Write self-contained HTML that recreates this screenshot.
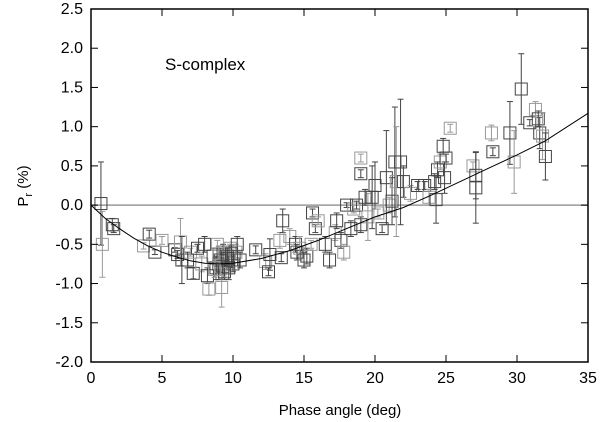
<!DOCTYPE html>
<html><head><meta charset="utf-8"><style>
body{margin:0;background:#fff;font-family:"Liberation Sans",sans-serif}
svg{display:block}
text{font-family:"Liberation Sans",sans-serif;fill:#000}
</style></head><body>
<svg id="chart" width="600" height="422" xmlns="http://www.w3.org/2000/svg">
<text x="165" y="70" font-size="17">S-complex</text>
<text x="340" y="415" font-size="15" text-anchor="middle">Phase angle (deg)</text>
<text transform="translate(28,186) rotate(-90)" font-size="15" text-anchor="middle">P<tspan font-size="11" dy="4">r</tspan><tspan dy="-4"> (%)</tspan></text>
</svg>
<script>
const xTicks=[0,5,10,15,20,25,30,35];
const yTicks=[2.5,2.0,1.5,1.0,0.5,0.0,-0.5,-1.0,-1.5,-2.0];
const phase=[0.7,0.8,1.5,1.6,3.7,4.1,4.5,5.0,5.9,6.1,6.3,6.4,6.8,7.0,7.2,7.5,7.8,8.0,8.2,8.3,8.6,8.8,8.9,9.0,9.1,9.2,9.3,9.4,9.5,9.6,9.7,9.8,9.9,10.0,10.2,10.3,10.5,9.0,9.3,9.6,8.7,9.9,11.6,12.3,12.6,12.5,13.3,13.5,13.4,14.0,14.4,14.5,14.7,15.0,15.2,15.5,15.6,15.8,16.0,16.5,16.8,17.2,17.3,17.6,17.8,18.0,18.3,18.5,18.7,19.0,19.0,19.0,19.3,19.5,19.8,20.0,20.2,20.5,20.8,21.0,21.2,21.4,21.5,21.8,22.0,22.5,23.0,23.5,23.8,24.2,24.4,24.6,24.8,25.0,25.3,24.9,24.3,26.9,27.1,27.1,28.2,28.3,29.5,29.8,30.3,30.9,31.3,31.5,31.6,31.8,32.0];
const polar=[0.02,-0.5,-0.25,-0.3,-0.52,-0.37,-0.6,-0.45,-0.57,-0.63,-0.47,-0.7,-0.7,-0.6,-0.87,-0.55,-0.75,-0.5,-0.9,-1.07,-0.65,-0.8,-0.5,-0.75,-0.7,-1.05,-0.6,-0.85,-0.72,-0.65,-0.8,-0.55,-0.7,-0.75,-0.6,-0.5,-0.7,-0.62,-0.78,-0.68,-0.82,-0.62,-0.57,-0.72,-0.63,-0.85,-0.45,-0.2,-0.67,-0.4,-0.5,-0.6,-0.55,-0.7,-0.65,-0.5,-0.1,-0.3,-0.2,-0.5,-0.7,-0.35,-0.2,-0.45,-0.6,0.0,-0.3,-0.05,0.0,-0.25,0.6,0.4,0.1,-0.15,0.1,0.25,-0.1,-0.3,0.35,0.0,0.05,0.55,0.3,0.55,0.3,0.15,0.25,0.25,0.1,0.3,0.45,0.55,0.75,0.6,0.98,0.35,0.07,0.5,0.38,0.22,0.92,0.68,0.92,0.55,1.48,1.05,1.22,1.1,0.92,0.88,0.62];
const errs=[0.53,0.42,0.08,0.05,0.04,0.05,0.03,0.05,0.03,0.05,0.3,0.3,0.1,0.05,0.07,0.05,0.1,0.1,0.1,0.08,0.1,0.15,0.05,0.2,0.15,0.25,0.1,0.1,0.2,0.1,0.15,0.05,0.1,0.1,0.1,0.1,0.1,0.1,0.15,0.1,0.1,0.1,0.05,0.1,0.2,0.05,0.1,0.15,0.05,0.1,0.1,0.1,0.15,0.1,0.1,0.05,0.05,0.05,0.05,0.1,0.1,0.1,0.1,0.1,0.1,0.03,0.1,0.05,0.05,0.1,0.05,0.05,0.1,0.3,0.4,0.3,0.05,0.05,0.6,0.1,0.3,0.7,0.7,0.8,0.2,0.1,0.05,0.05,0.1,0.1,0.1,0.1,0.1,0.05,0.05,0.2,0.3,0.05,0.3,0.45,0.1,0.05,0.4,0.4,0.45,0.04,0.1,0.1,0.2,0.3,0.3];
const curveX=[0,1,2,3,4,5,6,7,8,9,10,12,14,16,18,20,22,24,26,28,30,32,35];
const curveY=[0,-0.17,-0.3,-0.42,-0.52,-0.6,-0.66,-0.71,-0.74,-0.75,-0.74,-0.68,-0.58,-0.45,-0.3,-0.15,-0.03,0.13,0.3,0.47,0.64,0.82,1.17];

const L=91,R=588,T=9,B=362,xmin=0,xmax=35,ymin=-2,ymax=2.5;
const sx=v=>L+(v-xmin)/(xmax-xmin)*(R-L);
const sy=v=>B-(v-ymin)/(ymax-ymin)*(B-T);
const svg=document.getElementById('chart');
const NS='http://www.w3.org/2000/svg';
function mk(tag,attrs,parent){const e=document.createElementNS(NS,tag);for(const k in attrs)e.setAttribute(k,attrs[k]);(parent||svg).appendChild(e);return e;}

let z=mk('line',{x1:L,x2:R,y1:sy(0),y2:sy(0),stroke:'#999','stroke-width':1.5});



const pg=mk('g',{});


phase.forEach((p,i)=>{
  const cx=sx(p),cy=sy(polar[i]);
  const col=i%3===1?'#999':'#444';
  const g=mk('g',{stroke:col,fill:'none','stroke-width':1},pg);
  
  
  const y1=sy(polar[i]+errs[i]),y2=sy(polar[i]-errs[i]);
  mk('line',{x1:cx,x2:cx,y1:y1,y2:y2},g);
  mk('line',{x1:cx-3,x2:cx+3,y1:y1,y2:y1},g);
  mk('line',{x1:cx-3,x2:cx+3,y1:y2,y2:y2},g);
  mk('rect',{x:cx-6,y:cy-6,width:12,height:12},g);
});

let d='';curveX.forEach((v,i)=>{d+=(i?'L':'M')+sx(v).toFixed(1)+','+sy(curveY[i]).toFixed(1);});
let c=mk('path',{d:d,fill:'none',stroke:'#000','stroke-width':1});



let f=mk('rect',{x:L,y:T,width:R-L,height:B-T,fill:'none',stroke:'#000','stroke-width':1.5});



xTicks.forEach(v=>{
  const x=sx(v);
  mk('line',{x1:x,x2:x,y1:B,y2:B-7,stroke:'#000'});
  mk('line',{x1:x,x2:x,y1:T,y2:T+7,stroke:'#000'});
  const t=mk('text',{x:x,y:B+21,'font-size':16,'text-anchor':'middle'});
  t.textContent=v;
  
  
});
yTicks.forEach(v=>{
  const y=sy(v);
  mk('line',{x1:L,x2:L+7,y1:y,y2:y,stroke:'#000'});
  mk('line',{x1:R,x2:R-7,y1:y,y2:y,stroke:'#000'});
  const t=mk('text',{x:L-8,y:y+5,'font-size':16,'text-anchor':'end'});
  t.textContent=v.toFixed(1);
  
  
});
</script>
</body></html>
